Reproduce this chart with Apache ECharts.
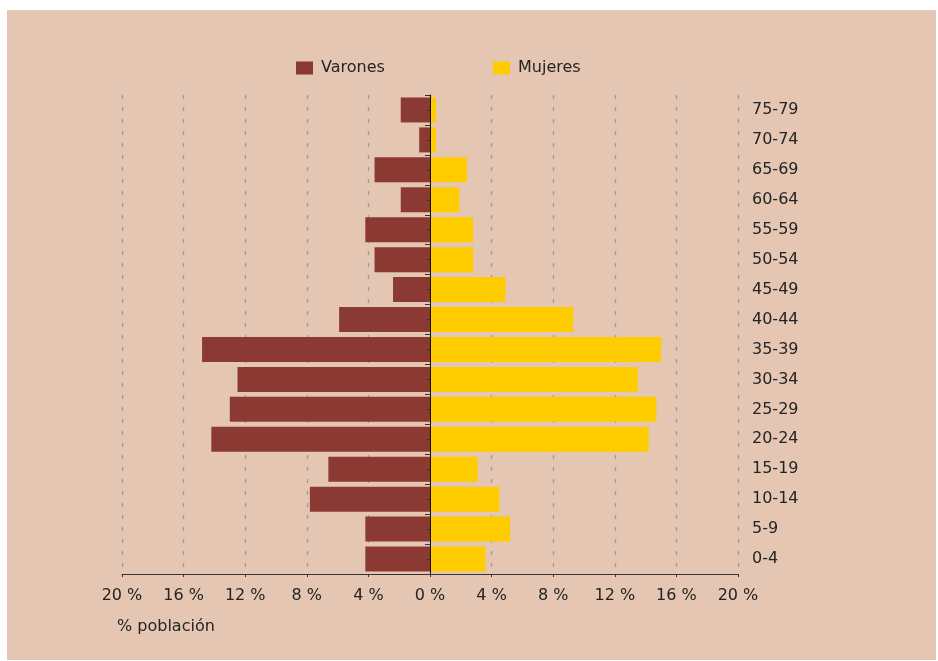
<!DOCTYPE html>
<html>
<head>
<meta charset="utf-8">
<script src="https://cdn.jsdelivr.net/npm/echarts@6/dist/echarts.min.js"></script>
<style>
  html, body { margin: 0; padding: 0; background: #ffffff; }
  #wrap { position: relative; width: 938px; height: 661px; }
  #panel { position: absolute; left: 7px; top: 10px; width: 929px; height: 650px; background: #e4c6b2; }
  #chart { position: absolute; left: 0; top: 0; width: 938px; height: 661px; }
</style>
</head>
<body>
<div id="wrap"><div id="panel"></div><div id="chart"></div></div>
<script>
const categories = ['0-4','5-9','10-14','15-19','20-24','25-29','30-34','35-39','40-44','45-49','50-54','55-59','60-64','65-69','70-74','75-79'];
const varones = [4.2, 4.2, 7.8, 6.6, 14.2, 13.0, 12.5, 14.8, 5.9, 2.4, 3.6, 4.2, 1.9, 3.6, 0.7, 1.9];
const mujeres = [3.6, 5.2, 4.5, 3.1, 14.2, 14.7, 13.5, 15.0, 9.3, 4.9, 2.8, 2.8, 1.9, 2.4, 0.4, 0.4];
const xTicks = { min: -20, max: 20, interval: 4 };

const FONT = 'DejaVu Sans';
const TXT = '#242424';
const chart = echarts.init(document.getElementById('chart'), null, { renderer: 'canvas' });
chart.setOption({
  animation: false,
  textStyle: { fontFamily: FONT },
  grid: { left: 122, right: 200, top: 95, bottom: 87, containLabel: false },
  legend: [
    { data: ['Varones'], left: 296, top: 60, padding: 0, icon: 'rect', itemWidth: 17, itemHeight: 13,
      textStyle: { fontFamily: FONT, fontSize: 16, color: TXT, padding: [0, 0, 0, 3] } },
    { data: ['Mujeres'], left: 493, top: 60, padding: 0, icon: 'rect', itemWidth: 17, itemHeight: 13,
      textStyle: { fontFamily: FONT, fontSize: 16, color: TXT, padding: [0, 0, 0, 3] } }
  ],
  xAxis: {
    type: 'value', min: xTicks.min, max: xTicks.max, interval: xTicks.interval,
    axisLine: { show: true, onZero: false, lineStyle: { color: '#333', width: 1 } },
    axisTick: { show: true, length: 3, lineStyle: { color: '#333' } },
    axisLabel: { fontFamily: FONT, fontSize: 16, color: TXT, margin: 14,
      formatter: v => Math.abs(v) + ' %' },
    splitLine: { show: true, lineStyle: { color: '#9c9c9c', width: 1.3, type: [4, 8] } }
  },
  yAxis: [
    { type: 'category', data: categories, position: 'left', z: 5,
      axisLine: { show: true, onZero: true, lineStyle: { color: '#111', width: 1 } },
      axisTick: { show: true, interval: 0, length: 5, lineStyle: { color: '#333' } },
      axisLabel: { show: false }, splitLine: { show: false } },
    { type: 'category', data: categories, position: 'left', offset: -308, z: 5,
      axisLine: { show: false, onZero: false },
      axisTick: { show: true, interval: 0, alignWithLabel: true, length: 3, lineStyle: { color: '#333' } },
      axisLabel: { show: false }, splitLine: { show: false } },
    { type: 'category', data: categories, position: 'right',
      axisLine: { show: false, onZero: false }, axisTick: { show: false },
      axisLabel: { show: true, margin: 14, fontFamily: FONT, fontSize: 16, color: TXT, padding: [4, 0, 0, 0] },
      splitLine: { show: false } }
  ],
  series: [
    { name: 'Varones', type: 'bar', yAxisIndex: 0, data: varones.map(v => -v),
      itemStyle: { color: '#8b3a33' }, barCategoryGap: '16.6%', barGap: '-100%' },
    { name: 'Mujeres', type: 'bar', yAxisIndex: 0, data: mujeres,
      itemStyle: { color: '#ffcc00' }, barCategoryGap: '16.6%', barGap: '-100%' }
  ],
  graphic: [
    { type: 'text', left: 117, top: 619, style: { text: '% población', font: '16px "DejaVu Sans"', fill: TXT } }
  ]
});
</script>
</body>
</html>
